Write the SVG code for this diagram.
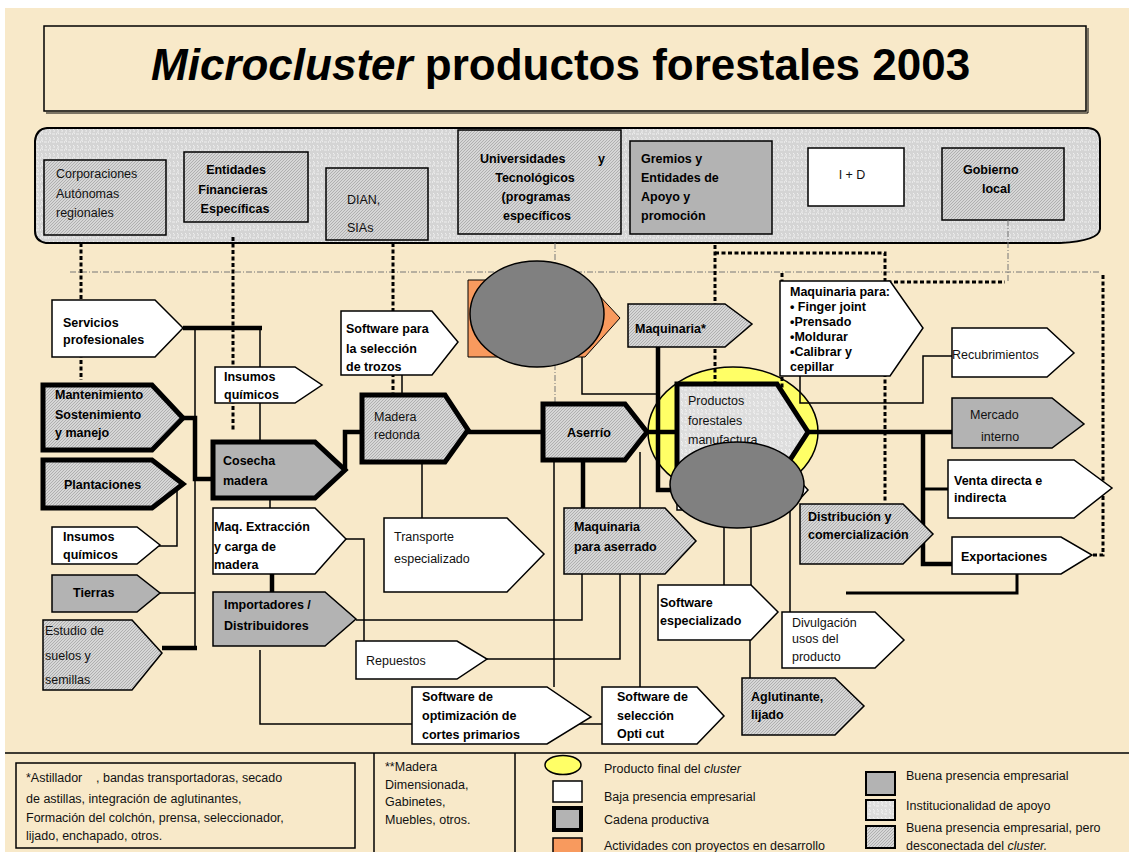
<svg xmlns="http://www.w3.org/2000/svg" width="1129" height="852" viewBox="0 0 1129 852">
<defs>
<pattern id="hatch" width="3" height="3" patternUnits="userSpaceOnUse"><rect width="3" height="3" fill="#d6d6d6"/><path d="M-1,1 L1,-1 M0,3 L3,0 M2,4 L4,2" stroke="#a4a4a4" stroke-width="0.8"/></pattern>
<pattern id="speck" width="8" height="8" patternUnits="userSpaceOnUse"><rect width="8" height="8" fill="#d4d4d4"/><path d="M1,1 q2,1 1,3 q-1,1 1,2 M5,1 q2,1 1,3 M4,6 h3 M0,5 q1,1 0,2" stroke="#f2f2f2" stroke-width="0.9" fill="none"/></pattern>
<pattern id="speckl" width="8" height="8" patternUnits="userSpaceOnUse"><rect width="8" height="8" fill="#dddddd"/><path d="M1,1 q2,1 1,3 q-1,1 1,2 M5,1 q2,1 1,3 M4,6 h3" stroke="#f6f6f6" stroke-width="0.9" fill="none"/></pattern>
</defs>
<style>
.w{fill:#fff;stroke:#000;stroke-width:1.5}
.g{fill:#b3b3b3;stroke:#000;stroke-width:1.5}
.h{fill:url(#hatch);stroke:#000;stroke-width:1.5}
.sp{fill:url(#speckl);stroke:#000;stroke-width:1.5}
.k{stroke-width:5}
.b{font-family:"Liberation Sans",Arial,sans-serif;font-weight:bold;font-size:12.5px;fill:#000}
.r{font-family:"Liberation Sans",Arial,sans-serif;font-size:12.5px;fill:#111}
.lg{font-family:"Liberation Sans",Arial,sans-serif;font-size:12.5px;fill:#111}
.c{text-anchor:middle}
.thin{fill:none;stroke:#000;stroke-width:1.5}
.med{fill:none;stroke:#000;stroke-width:3}
.thick{fill:none;stroke:#000;stroke-width:4.5}
.dot{fill:none;stroke:#000;stroke-width:3;stroke-dasharray:4 2.5}
.dd{fill:none;stroke:#777;stroke-width:1;stroke-dasharray:6 2 1 2}
</style>
<rect width="1129" height="852" fill="#fff"/>
<rect x="5" y="8" width="1124" height="844" fill="#f8e9c9"/>

<g id="title">
<rect x="44" y="26" width="1042" height="85" fill="none" stroke="#000" stroke-width="1.5"/>
<polyline points="46,113 1088,113 1088,28" fill="none" stroke="#000" stroke-width="1"/>
<text x="151" y="80" font-family="'Liberation Sans',Arial,sans-serif" font-weight="bold" font-size="44"><tspan font-style="italic">Microcluster</tspan> productos forestales 2003</text>
</g>

<g id="band">
<path d="M47,128 H1088 Q1100,129 1100,141 V229 Q1099,241 1060,243 H46 Q35,241 35,231 V141 Q36,129 47,128 Z" fill="url(#speck)" stroke="#000" stroke-width="2"/>
</g>
<g id="corporaciones"><rect class="h" x="44" y="160" width="122" height="75"/>
<text class="r" x="56" y="178">Corporaciones</text><text class="r" x="56" y="198">Autónomas</text><text class="r" x="56" y="217">regionales</text></g>
<g id="entidades"><rect class="h" x="184" y="152" width="124" height="70"/>
<text class="b c" x="236" y="174">Entidades</text><text class="b c" x="233" y="194">Financieras</text><text class="b c" x="235" y="213">Específicas</text></g>
<g id="dian"><rect class="h" x="326" y="168" width="102" height="72"/>
<text class="r" x="347" y="204">DIAN,</text><text class="r" x="347" y="232">SIAs</text></g>
<g id="universidades"><rect class="h" x="458" y="130" width="163" height="104"/>
<text class="b" x="480" y="163">Universidades</text><text class="b" x="598" y="163">y</text>
<text class="b c" x="535" y="182">Tecnológicos</text><text class="b c" x="536" y="201">(programas</text><text class="b c" x="537" y="220">específicos</text></g>
<g id="gremios"><rect class="g" x="630" y="141" width="142" height="93"/>
<text class="b" x="641" y="163">Gremios y</text><text class="b" x="641" y="182">Entidades de</text><text class="b" x="641" y="201">Apoyo y</text><text class="b" x="641" y="220">promoción</text></g>
<g id="imasd"><rect class="w" x="808" y="148" width="96" height="58"/>
<text class="r c" x="852" y="179">I + D</text></g>
<g id="gobierno"><rect class="h" x="942" y="148" width="122" height="72"/>
<text class="b" x="963" y="174">Gobierno</text><text class="b" x="982" y="193">local</text></g>

<g id="producto-final-ellipse"><ellipse cx="733" cy="432" rx="85" ry="65" fill="#ffff66" stroke="#000" stroke-width="1.5"/></g>

<g id="connectors">
<path class="dd" d="M70,272 H1100"/>
<path class="dd" d="M555,243 V405"/>
<path class="dd" d="M1008,220 V282"/>
<path class="dot" d="M81,243 V380"/>
<path class="dot" d="M233,237 V432"/>
<path class="dot" d="M393,243 V393"/>
<path class="dot" d="M715,245 V384"/>
<path class="dot" d="M715,253 H885 V282 H1005"/>
<path class="dot" d="M885,282 V502"/>
<path class="dot" d="M782,273 V400"/>
<path class="dot" d="M1103,275 V555 H1093"/>
<path class="thin" d="M260,328 V367"/>
<path class="thin" d="M195,328 V648"/>
<path class="thin" d="M260,403 V442"/>
<path class="thin" d="M160,593 H195"/>
<path class="thin" d="M177,489 V546 H158"/>
<path class="thin" d="M270,497 V508"/>
<path class="thin" d="M346,539 H364 V641"/>
<path class="thin" d="M356,620 H582 V574"/>
<path class="thin" d="M260,650 V724 H412"/>
<path class="thin" d="M487,659 H620 V574"/>
<path class="thin" d="M402,375 V395"/>
<path class="thin" d="M422,462 V518"/>
<path class="thin" d="M554,460 V687"/>
<path class="thin" d="M640,452 V687"/>
<path class="thin" d="M572,724 H602"/>
<path class="thin" d="M750,640 V678"/>
<path class="thin" d="M724,520 V585"/>
<path class="thin" d="M751,520 V585"/>
<path class="thin" d="M790,470 V612"/>
<path class="thin" d="M582,355 V394 H656"/>
<path class="thin" d="M800,375 V403 H923 V356 H952"/>
<path class="med" d="M1017,574 V593 H846"/>
<path class="med" d="M923,489 H950"/>
<path class="thick" d="M183,328 H262"/>
<path class="thick" d="M183,418 H195 V479 H213"/>
<path class="thick" d="M162,648 H197"/>
<path class="thick" d="M345,470 V432 H362"/>
<path class="thick" d="M272,574 V592"/>
<path class="thick" d="M468,432 H543"/>
<path class="thick" d="M583,460 V508"/>
<path class="thick" d="M647,432 H677"/>
<path class="thick" d="M658,347 V490 H676"/>
<path class="thick" d="M808,432 H952"/>
<path class="thick" d="M923,432 V564 H952"/>
</g>

<g id="servicios"><path class="w" d="M52,300 H155 L183,328 L155,357 H52 Z"/>
<text class="b" x="63" y="327">Servicios</text><text class="b" x="63" y="344">profesionales</text></g>
<g id="mantenimiento"><path class="h k" d="M43,385 H152 L183,418 L152,450 H43 Z"/>
<text class="b" x="55" y="399">Mantenimiento</text><text class="b" x="55" y="419">Sostenimiento</text><text class="b" x="55" y="437">y manejo</text></g>
<g id="plantaciones"><path class="h k" d="M43,460 H152 L183,484 L152,508 H43 Z"/>
<text class="b" x="64" y="489">Plantaciones</text></g>
<g id="insumos1"><path class="w" d="M52,527 H137 L160,545 L137,564 H52 Z"/>
<text class="b" x="63" y="541">Insumos</text><text class="b" x="63" y="559">químicos</text></g>
<g id="tierras"><path class="g" d="M52,575 H137 L160,593 L137,612 H52 Z"/>
<text class="b" x="73" y="597">Tierras</text></g>
<g id="estudio"><path class="h" d="M43,620 H132 L162,653 L132,690 H43 Z"/>
<text class="r" x="45" y="635">Estudio de</text><text class="r" x="45" y="660">suelos y</text><text class="r" x="45" y="684">semillas</text></g>
<g id="insumos2"><path class="w" d="M215,367 H295 L322,385 L295,403 H215 Z"/>
<text class="b" x="224" y="381">Insumos</text><text class="b" x="224" y="399">químicos</text></g>
<g id="cosecha"><path class="g k" d="M213,442 H315 L345,470 L315,498 H213 Z"/>
<text class="b" x="223" y="465">Cosecha</text><text class="b" x="223" y="485">madera</text></g>
<g id="maqextraccion"><path class="w" d="M213,508 H315 L346,539 L315,574 H213 Z"/>
<text class="b" x="214" y="531">Maq. Extracción</text><text class="b" x="214" y="551">y carga de</text><text class="b" x="214" y="569">madera</text></g>
<g id="importadores"><path class="g" d="M213,592 H325 L356,619 L325,646 H213 Z"/>
<text class="b" x="224" y="609">Importadores /</text><text class="b" x="224" y="630">Distribuidores</text></g>
<g id="repuestos"><path class="w" d="M356,641 H457 L487,659 L457,679 H356 Z"/>
<text class="r" x="366" y="665">Repuestos</text></g>
<g id="softoptimizacion"><path class="w" d="M412,687 H547 L591,717 L547,744 H412 Z"/>
<text class="b" x="422" y="701">Software de</text><text class="b" x="422" y="720">optimización de</text><text class="b" x="422" y="739">cortes primarios</text></g>
<g id="softpara"><path class="w" d="M341,311 H432 L458,342 L432,375 H341 Z"/>
<text class="b" x="346" y="333">Software para</text><text class="b" x="346" y="353">la selección</text><text class="b" x="346" y="371">de trozos</text></g>
<g id="madera"><path class="h k" d="M362,395 H445 L468,430 L445,462 H362 Z"/>
<text class="r" x="374" y="421">Madera</text><text class="r" x="374" y="439">redonda</text></g>
<g id="transporte"><path class="w" d="M384,518 H507 L544,554 L507,592 H384 Z"/>
<text class="r" x="394" y="541">Transporte</text><text class="r" x="394" y="563">especializado</text></g>
<g id="aserrio"><path class="h k" d="M543,404 H625 L647,432 L625,460 H543 Z"/>
<text class="b" x="567" y="437">Aserrío</text></g>
<g id="maqaserrado"><path class="h" d="M564,508 H665 L696,541 L665,574 H564 Z"/>
<text class="b" x="574" y="531">Maquinaria</text><text class="b" x="574" y="551">para aserrado</text></g>
<g id="softseleccion"><path class="w" d="M602,687 H697 L724,716 L697,744 H602 Z"/>
<text class="b" x="617" y="701">Software de</text><text class="b" x="617" y="720">selección</text><text class="b" x="617" y="738">Opti cut</text></g>
<g id="softespecializado"><path class="w" d="M658,585 H751 L778,612 L751,640 H658 Z"/>
<text class="b" x="660" y="607">Software</text><text class="b" x="660" y="625">especializado</text></g>
<g id="aglutinante"><path class="h" d="M742,678 H835 L864,706 L835,735 H742 Z"/>
<text class="b" x="751" y="701">Aglutinante,</text><text class="b" x="751" y="719">lijado</text></g>
<g id="divulgacion"><path class="w" d="M782,612 H875 L904,640 L875,668 H782 Z"/>
<text class="r" x="792" y="627">Divulgación</text><text class="r" x="792" y="643">usos del</text><text class="r" x="792" y="661">producto</text></g>
<g id="mercado"><path class="g" d="M952,398 H1052 L1084,424 L1052,448 H952 Z"/>
<text class="r" x="970" y="419">Mercado</text><text class="r" x="981" y="441">interno</text></g>
<g id="venta"><path class="w" d="M948,460 H1074 L1112,488 L1074,518 H948 Z"/>
<text class="b" x="954" y="485">Venta directa e</text><text class="b" x="954" y="502">indirecta</text></g>
<g id="exportaciones"><path class="w" d="M952,537 H1061 L1092,555 L1061,574 H952 Z"/>
<text class="b" x="961" y="561">Exportaciones</text></g>
<g id="distribucion"><path class="h" d="M800,504 H903 L933,534 L903,564 H800 Z"/>
<text class="b" x="808" y="521">Distribución y</text><text class="b" x="808" y="539">comercialización</text></g>
<g id="maquinaria"><path class="h" d="M628,304 H725 L752,324 L725,347 H628 Z"/>
<text class="b" x="635" y="333">Maquinaria*</text></g>
<g id="maqpara"><path class="w" d="M780,281 H890 L923,328 L890,376 H780 Z"/>
<text class="b" x="790" y="296" font-size="12">Maquinaria para:</text><text class="b" x="790" y="311" font-size="12">• Finger joint</text><text class="b" x="790" y="326" font-size="12">•Prensado</text><text class="b" x="790" y="341" font-size="12">•Moldurar</text><text class="b" x="790" y="356" font-size="12">•Calibrar y</text><text class="b" x="790" y="371" font-size="12">cepillar</text></g>
<g id="recubrimientos"><path class="w" d="M952,328 H1047 L1074,353 L1047,377 H952 Z"/>
<text class="r" x="952" y="359">Recubrimientos</text></g>
<g id="productos"><path class="sp k" d="M677,384 H777 L808,432 L777,480 H677 Z"/>
<text class="r" x="688" y="405" fill="#333">Productos</text><text class="r" x="688" y="425" fill="#333">forestales</text><text class="r" x="688" y="444" fill="#333">manufactura</text></g>
<g id="hidden-node"><path class="w" d="M677,470 H790 L808,490 L790,510 H677 Z"/></g>
<g id="ellipse2"><ellipse cx="737" cy="485" rx="67" ry="43" fill="#808080" stroke="#000" stroke-width="1.5"/></g>
<g id="actividad-proyecto"><path d="M468,280 H585 L620,318 L585,357 H468 Z" fill="#f89a5e" stroke="#000" stroke-width="1"/>
<ellipse cx="537" cy="314" rx="67" ry="53" fill="#808080" stroke="#000" stroke-width="1.5"/></g>

<g id="legend">
<path d="M5,753 H1129" stroke="#000" stroke-width="1.5"/>
<path d="M374,753 V852 M515,753 V852" stroke="#000" stroke-width="1.5"/>
<rect x="16" y="763" width="339" height="85" fill="none" stroke="#000" stroke-width="1.5"/>
<text class="lg" x="26" y="782">*Astillador</text>
<text class="lg" x="96" y="782">, bandas transportadoras, secado</text>
<text class="lg" x="26" y="803">de astillas, integración de aglutinantes,</text>
<text class="lg" x="26" y="822">Formación del colchón, prensa, seleccionador,</text>
<text class="lg" x="26" y="840">lijado, enchapado, otros.</text>
<text class="lg" x="385" y="771">**Madera</text>
<text class="lg" x="385" y="789">Dimensionada,</text>
<text class="lg" x="385" y="806">Gabinetes,</text>
<text class="lg" x="385" y="824">Muebles, otros.</text>
<ellipse cx="563" cy="765" rx="18" ry="9.5" fill="#ffff66" stroke="#000" stroke-width="1.5"/>
<rect x="553" y="781" width="29" height="21" fill="#fff" stroke="#000" stroke-width="1.5"/>
<rect x="554" y="808" width="27" height="22" fill="#b3b3b3" stroke="#000" stroke-width="4"/>
<rect x="553" y="838" width="29" height="16" fill="#f89a5e" stroke="#000" stroke-width="1.5"/>
<text class="lg" x="604" y="773">Producto final del <tspan font-style="italic">cluster</tspan></text>
<text class="lg" x="604" y="801">Baja presencia empresarial</text>
<text class="lg" x="604" y="824">Cadena  productiva</text>
<text class="lg" x="604" y="850">Actividades con proyectos en desarrollo</text>
<rect x="866" y="772" width="29" height="23" fill="#b3b3b3" stroke="#000" stroke-width="2"/>
<rect x="866" y="800" width="29" height="20" fill="url(#speckl)" stroke="#000" stroke-width="2"/>
<rect x="866" y="826" width="29" height="22" fill="url(#hatch)" stroke="#000" stroke-width="2"/>
<text class="lg" x="906" y="780">Buena presencia empresarial</text>
<text class="lg" x="906" y="810">Institucionalidad de apoyo</text>
<text class="lg" x="906" y="832">Buena presencia empresarial, pero</text>
<text class="lg" x="906" y="850">desconectada del <tspan font-style="italic">cluster.</tspan></text>
</g>
</svg>
